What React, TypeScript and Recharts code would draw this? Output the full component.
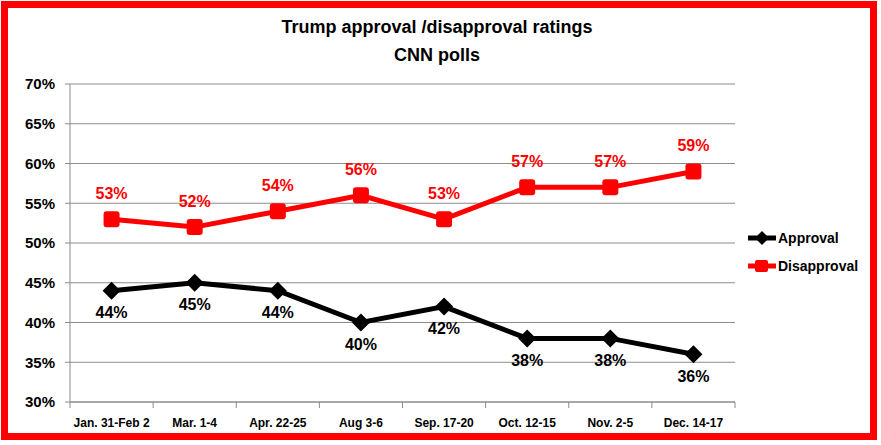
import { LineChart, Line, XAxis, YAxis, CartesianGrid, LabelList } from 'recharts';

const polls = ['Jan. 31-Feb 2', 'Mar. 1-4', 'Apr. 22-25', 'Aug 3-6', 'Sep. 17-20', 'Oct. 12-15', 'Nov. 2-5', 'Dec. 14-17'];
const approval = [44, 45, 44, 40, 42, 38, 38, 36];
const disapproval = [53, 52, 54, 56, 53, 57, 57, 59];
const yTicks = [30, 35, 40, 45, 50, 55, 60, 65, 70];

const data = polls.map((poll, i) => ({ poll, approval: approval[i], disapproval: disapproval[i] }));

const W = 881;
const H = 445;
const margin = { top: 84, right: 146, bottom: 13, left: 0 };
const yAxisWidth = 70;
const band = (W - margin.left - margin.right - yAxisWidth) / polls.length;
const font = '"Liberation Sans", Arial, sans-serif';
const grey = '#8c8c8c';

function Diamond({ cx, cy }: any) {
  if (cx == null || cy == null) return null;
  const r = 9;
  return <polygon points={`${cx},${cy - r} ${cx + r},${cy} ${cx},${cy + r} ${cx - r},${cy}`} fill="#000" />;
}

function Square({ cx, cy }: any) {
  if (cx == null || cy == null) return null;
  const s = 16;
  return <rect x={cx - s / 2} y={cy - s / 2} width={s} height={s} rx={3} fill="#ff0000" />;
}

function PollTick({ x, y, payload, index }: any) {
  return (
    <g>
      <line x1={x - band / 2} x2={x - band / 2} y1={y} y2={y + 6} stroke={grey} />
      {index === polls.length - 1 && <line x1={x + band / 2} x2={x + band / 2} y1={y} y2={y + 6} stroke={grey} />}
      <text x={x} y={y + 25} textAnchor="middle" fontSize={12} fontWeight="bold" fill="#000" fontFamily={font}>
        {payload.value}
      </text>
    </g>
  );
}

function LegendBox() {
  const items = [
    { label: 'Approval', color: '#000', marker: 'diamond' },
    { label: 'Disapproval', color: '#ff0000', marker: 'square' },
  ];
  return (
    <div style={{ position: 'absolute', left: 747, top: 224, fontFamily: font, fontWeight: 'bold', fontSize: 14 }}>
      {items.map((it) => (
        <div key={it.label} style={{ display: 'flex', alignItems: 'center', height: 28 }}>
          <svg width={30} height={16}>
            <line x1={1} x2={29} y1={8} y2={8} stroke={it.color} strokeWidth={5} />
            {it.marker === 'diamond' ? (
              <polygon points="15,1 22,8 15,15 8,8" fill={it.color} />
            ) : (
              <rect x={8} y={2} width={13} height={12} rx={2} fill={it.color} />
            )}
          </svg>
          <span style={{ marginLeft: 1, color: '#000' }}>{it.label}</span>
        </div>
      ))}
    </div>
  );
}

export default function App() {
  return (
    <div style={{ position: 'absolute', left: 0, top: 0, width: W, height: H, background: '#fff' }}>
      <div
        style={{
          position: 'absolute',
          left: 1,
          top: 1,
          width: 876,
          height: 439,
          border: '7px solid #ff0000',
          boxSizing: 'border-box',
        }}
      />
      <div
        style={{
          position: 'absolute',
          left: 0,
          top: 13,
          width: 874,
          textAlign: 'center',
          fontFamily: font,
          fontWeight: 'bold',
          fontSize: 18,
          lineHeight: '28px',
          color: '#000',
        }}
      >
        <div>Trump approval /disapproval ratings</div>
        <div>CNN polls</div>
      </div>
      <div style={{ position: 'absolute', left: 0, top: 0 }}>
        <LineChart width={W} height={H} data={data} margin={margin}>
          <CartesianGrid vertical={false} stroke={grey} />
          <XAxis
            dataKey="poll"
            scale="band"
            height={30}
            stroke={grey}
            tickLine={false}
            tickSize={0}
            tickMargin={0}
            interval={0}
            tick={<PollTick />}
          />
          <YAxis
            width={yAxisWidth}
            domain={[30, 70]}
            ticks={yTicks}
            stroke={grey}
            tickSize={5}
            tickMargin={10}
            tickFormatter={(v) => `${v}%`}
            tick={{ fill: '#000', fontSize: 15, fontWeight: 'bold', fontFamily: font }}
          />
          <Line
            dataKey="approval"
            name="Approval"
            stroke="#000"
            strokeWidth={5}
            dot={<Diamond />}
            activeDot={false}
            isAnimationActive={false}
          >
            <LabelList
              dataKey="approval"
              position="bottom"
              offset={16}
              formatter={(v: any) => `${v}%`}
              style={{ fill: '#000', fontSize: 16, fontWeight: 'bold', fontFamily: font }}
            />
          </Line>
          <Line
            dataKey="disapproval"
            name="Disapproval"
            stroke="#ff0000"
            strokeWidth={5}
            dot={<Square />}
            activeDot={false}
            isAnimationActive={false}
          >
            <LabelList
              dataKey="disapproval"
              position="top"
              offset={20}
              formatter={(v: any) => `${v}%`}
              style={{ fill: '#ff0000', fontSize: 16, fontWeight: 'bold', fontFamily: font }}
            />
          </Line>
        </LineChart>
      </div>
      <LegendBox />
    </div>
  );
}
